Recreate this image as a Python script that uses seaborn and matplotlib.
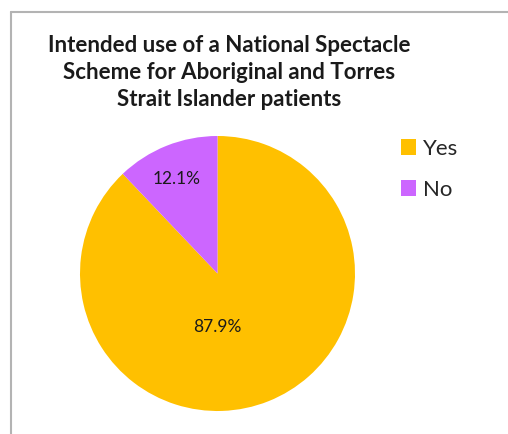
import matplotlib
matplotlib.use("Agg")
import matplotlib.pyplot as plt
import seaborn as sns
from matplotlib.patches import Patch
from matplotlib.lines import Line2D

sns.set_theme(style="white")
plt.rcParams['font.family'] = ['Lato', 'DejaVu Sans']

title = "Intended use of a National Spectacle\nScheme for Aboriginal and Torres\nStrait Islander patients"
categories = ["Yes", "No"]
values = [87.9, 12.1]
colors = ["#FFC000", "#CC66FF"]

W, H = 508, 434
fig = plt.figure(figsize=(W / 100, H / 100), dpi=100)

# pie axes
cx, cy, r = 217.5, 273.5, 137.5
ax = fig.add_axes([(cx - r) / W, (H - cy - r) / H, 2 * r / W, 2 * r / H])
wedges, texts, autotexts = ax.pie(values, colors=colors, startangle=90, counterclock=False,
                                  autopct='%1.1f%%', pctdistance=0.4,
                                  textprops=dict(fontsize=12.5, color='#1a1a1a'),
                                  wedgeprops=dict(linewidth=0))
ax.set_xlim(-1, 1)
ax.set_ylim(-1, 1)
ax.set_aspect('equal')
ax.axis('off')
autotexts[0].set_position((0.0, -0.39))
autotexts[1].set_position((-0.30, 0.69))

# title
fig.text(229 / W, 1 - 72.5 / H, title, ha='center', va='center', fontsize=16,
         fontweight='bold', color='#1a1a1a', linespacing=1.33)

# legend
handles = [Patch(facecolor=c, edgecolor='none') for c in colors]
leg = fig.legend(handles, categories, loc='upper left', bbox_to_anchor=(392 / W, 1 - 130 / H),
                 frameon=False, fontsize=16, handlelength=0.7, handleheight=0.7,
                 labelspacing=0.95, handletextpad=0.3, borderaxespad=0)

# border of the chart area
fig.add_artist(Line2D([11 / W, 11 / W], [0, 1 - 12 / H], transform=fig.transFigure,
                      color='#b3b3b3', linewidth=1.5))
fig.add_artist(Line2D([11 / W, 1], [1 - 12 / H, 1 - 12 / H], transform=fig.transFigure,
                      color='#b3b3b3', linewidth=1.5))

fig.savefig("out.png", dpi=100)
